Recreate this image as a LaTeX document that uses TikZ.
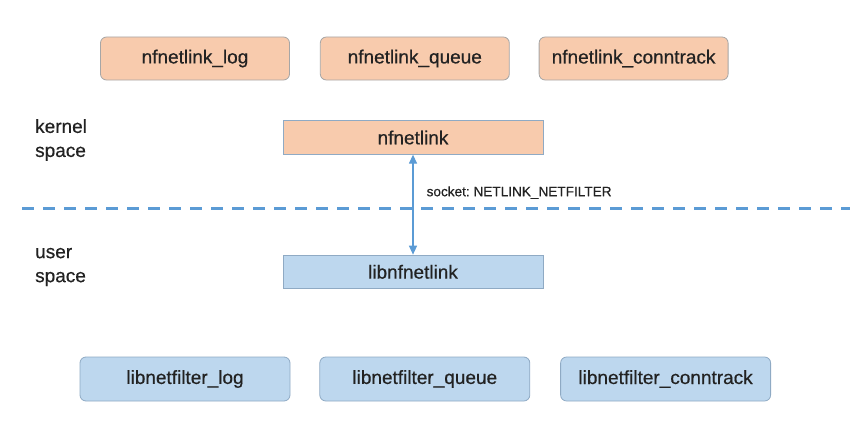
\documentclass[tikz,border=0pt]{standalone}
\usepackage{fontspec}
\setmainfont{Liberation Sans}[BoldFont=Liberation Sans, BoldFeatures={FakeBold=0.5}]
\usepackage{tikz}
\usetikzlibrary{positioning}
\usetikzlibrary{arrows.meta}

\definecolor{kfill}{HTML}{F8CBAD}
\definecolor{kdraw}{HTML}{A6A6A6}
\definecolor{ufill}{HTML}{BDD7EE}
\definecolor{udraw}{HTML}{8FAAC4}
\definecolor{linkblue}{HTML}{5B9BD5}
\definecolor{txt}{HTML}{222222}

\begin{document}
\begin{tikzpicture}[x=1pt, y=1pt, text=txt,
	font=\fontsize{19}{24}\selectfont\bfseries,
	kmod/.style={rectangle,rounded corners=6pt,draw=kdraw,fill=kfill,line width=0.8pt,inner sep=0pt,minimum width=189pt,minimum height=43pt},
	umod/.style={rectangle,rounded corners=6pt,draw=udraw,fill=ufill,line width=0.8pt,inner sep=0pt,minimum width=210pt,minimum height=44pt},
	corebox/.style={rectangle,draw=udraw,line width=0.8pt,inner sep=0pt,minimum width=260pt,minimum height=33.5pt},
	spacelabel/.style={anchor=west,align=left,inner sep=0pt},
	node distance = 30pt]
	\useasboundingbox (0,0) rectangle (850,-420);
	% kernel side
	\node[kmod] (nflog) at (195,-58.5) {nfnetlink\_log};
	\node[kmod] (nfqueue) [right = 30pt of nflog] {nfnetlink\_queue};
	\node[kmod] (nfct) [right = 29pt of nfqueue] {nfnetlink\_conntrack};
	\node[corebox,fill=kfill] (nfnetlink) at (413,-137.5) {nfnetlink};
	% user side
	\node[corebox,fill=ufill] (libnfnetlink) [below = 100pt of nfnetlink] {libnfnetlink};
	\node[umod] (lnflog) at (185,-379) {libnetfilter\_log};
	\node[umod] (lnfqueue) [right = 29pt of lnflog] {libnetfilter\_queue};
	\node[umod] (lnfct) [right = 30pt of lnfqueue] {libnetfilter\_conntrack};
	\node[spacelabel] (kspace) at (35,-140) {kernel\\space};
	\node[spacelabel] (uspace) at (35,-267) {user\\space};
	% boundary
	\coordinate (divl) at (22,-208);
	\coordinate (divr) at (850,-208);
	\draw[linkblue,line width=3pt,dash pattern=on 12pt off 9pt] (divl) -- (divr);
	\draw[linkblue,line width=1.3pt,{Triangle[length=9pt,width=8pt]}-{Triangle[length=9pt,width=8pt]}] (nfnetlink) -- (libnfnetlink)
		node[pos=0.38,anchor=west,xshift=13pt,inner sep=0pt,text=txt,font=\fontsize{13.6}{16}\selectfont\bfseries] (socklabel) {socket:\ NETLINK\_NETFILTER};
\end{tikzpicture}
\end{document}
